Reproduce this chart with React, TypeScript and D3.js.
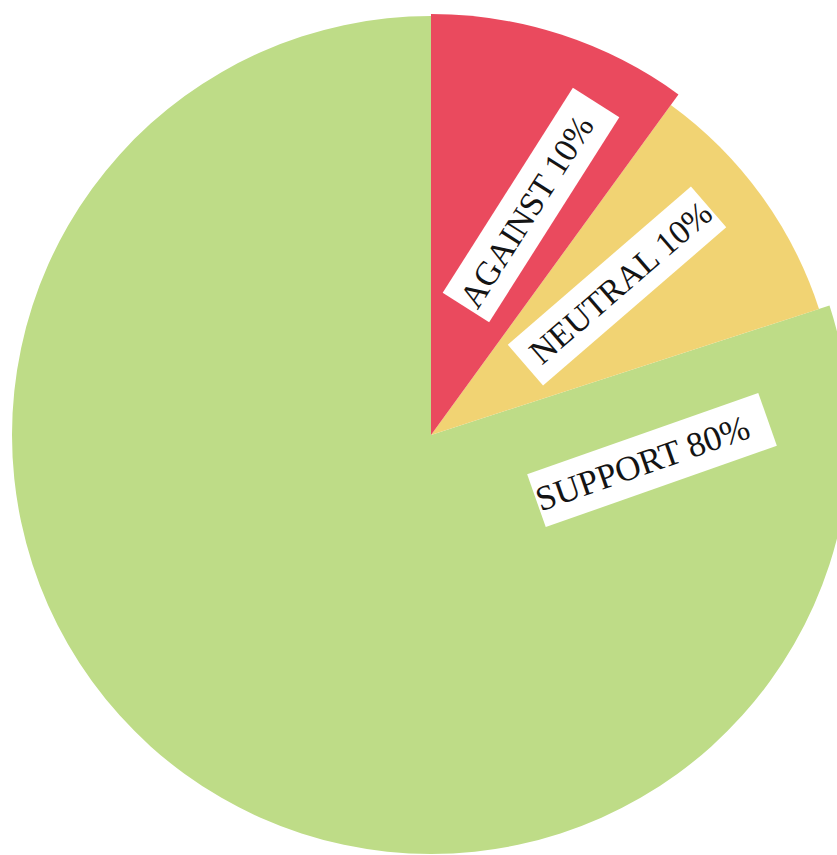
import React from "react";
import * as d3 from "d3";

const categories = ["AGAINST", "NEUTRAL", "SUPPORT"];
const values = [10, 10, 80];
const labels = ["AGAINST 10%", "NEUTRAL 10%", "SUPPORT 80%"];

const colors = ["#EA4A5E", "#F1D373", "#BEDC87"];
const center = { cx: 431, cy: 435 };
// paper-cut radius for each slice
const sliceRadius = [421, 408, 419];
// label cards: centre, rotation, size, text offset
const cardGeom = [
  { x: 531, y: 205, rot: -57.6, w: 243, h: 55, tx: -8, fs: 34 },
  { x: 617, y: 286, rot: -40.8, w: 242, h: 54, tx: 5, fs: 34 },
  { x: 652, y: 460, rot: -19.4, w: 245, h: 56, tx: -10, fs: 35 },
];

export default function App() {
  const W = 837;
  const H = 855;
  const pie = d3
    .pie<number>()
    .sort(null)
    .startAngle(0)
    .endAngle(2 * Math.PI)
    .value((d) => d);
  const arcs = pie(values);
  const order = [2, 1, 0];
  return (
    <div style={{ position: "absolute", left: 0, top: 0 }}>
      <svg width={W} height={H} style={{ display: "block", background: "#fff" }}>
        <g transform={`translate(${center.cx},${center.cy})`}>
          {order.map((i) => {
            const a = arcs[i];
            const path = d3.arc<any>().innerRadius(0).outerRadius(sliceRadius[i])(a) as string;
            return <path key={categories[i]} d={path} fill={colors[i]} />;
          })}
        </g>
        {labels.map((lab, i) => {
          const c = cardGeom[i];
          return (
            <g key={lab} transform={`translate(${c.x},${c.y}) rotate(${c.rot})`}>
              <rect x={-c.w / 2} y={-c.h / 2} width={c.w} height={c.h} fill="#fff" />
              <text
                x={c.tx}
                y={c.fs * 0.33}
                textAnchor="middle"
                fontFamily="'Liberation Serif', 'Times New Roman', serif"
                fontSize={c.fs}
                fill="#141414"
              >
                {lab}
              </text>
            </g>
          );
        })}
      </svg>
    </div>
  );
}
